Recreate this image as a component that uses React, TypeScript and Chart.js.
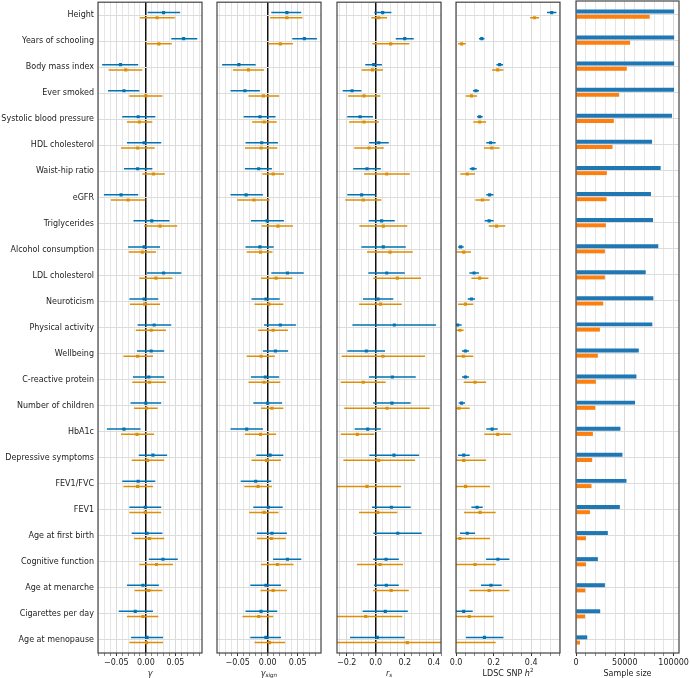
import React, { useEffect, useRef } from 'react';
import { Chart, registerables } from 'chart.js';

Chart.register(...registerables);
Chart.defaults.font.family = "'DejaVu Sans', sans-serif";
Chart.defaults.font.size = 8;
Chart.defaults.color = '#222222';

type CI = [number, number, number] | null; // [lower, estimate, upper]

const categories = [
  'Height', 'Years of schooling', 'Body mass index', 'Ever smoked', 'Systolic blood pressure',
  'HDL cholesterol', 'Waist-hip ratio', 'eGFR', 'Triglycerides', 'Alcohol consumption',
  'LDL cholesterol', 'Neuroticism', 'Physical activity', 'Wellbeing', 'C-reactive protein',
  'Number of children', 'HbA1c', 'Depressive symptoms', 'FEV1/FVC', 'FEV1',
  'Age at first birth', 'Cognitive function', 'Age at menarche', 'Cigarettes per day', 'Age at menopause',
];

const gammaBlue: CI[] = [
  [0.003, 0.030, 0.058], [0.043, 0.064, 0.087], [-0.074, -0.043, -0.013], [-0.064, -0.037, -0.011],
  [-0.040, -0.013, 0.016], [-0.032, -0.003, 0.026], [-0.037, -0.014, 0.011], [-0.071, -0.042, -0.013],
  [-0.021, 0.010, 0.040], [-0.030, -0.003, 0.024], [0.002, 0.030, 0.060], [-0.028, -0.003, 0.021],
  [-0.014, 0.014, 0.043], [-0.015, 0.009, 0.031], [-0.022, 0.005, 0.031], [-0.026, 0.000, 0.026],
  [-0.066, -0.037, -0.009], [-0.012, 0.012, 0.036], [-0.040, -0.013, 0.016], [-0.028, -0.001, 0.026],
  [-0.024, 0.002, 0.028], [0.005, 0.029, 0.054], [-0.032, -0.005, 0.022], [-0.046, -0.018, 0.012],
  [-0.025, 0.002, 0.029],
];
const gammaOrange: CI[] = [
  [-0.010, 0.019, 0.049], [0.000, 0.022, 0.044], [-0.063, -0.034, -0.006], [-0.028, 0.000, 0.028],
  [-0.032, -0.011, 0.011], [-0.042, -0.014, 0.015], [-0.006, 0.013, 0.032], [-0.059, -0.030, -0.001],
  [-0.003, 0.024, 0.053], [-0.029, -0.006, 0.017], [-0.011, 0.017, 0.045], [-0.027, -0.002, 0.024],
  [-0.017, 0.009, 0.034], [-0.038, -0.014, 0.012], [-0.023, 0.006, 0.034], [-0.020, 0.001, 0.020],
  [-0.042, -0.015, 0.014], [-0.024, 0.003, 0.031], [-0.038, -0.014, 0.012], [-0.028, -0.001, 0.026],
  [-0.020, 0.006, 0.031], [-0.011, 0.018, 0.046], [-0.019, 0.005, 0.028], [-0.032, -0.005, 0.021],
  [-0.028, 0.001, 0.029],
];

const gammaSignBlue: CI[] = [
  [0.006, 0.032, 0.056], [0.041, 0.061, 0.082], [-0.076, -0.048, -0.020], [-0.062, -0.038, -0.013],
  [-0.040, -0.013, 0.013], [-0.037, -0.010, 0.017], [-0.038, -0.015, 0.007], [-0.062, -0.036, -0.008],
  [-0.028, -0.001, 0.027], [-0.037, -0.013, 0.010], [0.006, 0.033, 0.060], [-0.027, -0.003, 0.020],
  [-0.006, 0.021, 0.047], [-0.008, 0.013, 0.034], [-0.028, -0.004, 0.019], [-0.024, 0.000, 0.024],
  [-0.062, -0.035, -0.008], [-0.019, 0.004, 0.026], [-0.045, -0.020, 0.006], [-0.024, 0.001, 0.025],
  [-0.018, 0.007, 0.032], [0.009, 0.033, 0.056], [-0.029, -0.003, 0.022], [-0.037, -0.011, 0.016],
  [-0.029, -0.003, 0.022],
];
const gammaSignOrange: CI[] = [
  [0.004, 0.032, 0.058], [0.001, 0.021, 0.042], [-0.058, -0.032, -0.006], [-0.032, -0.007, 0.019],
  [-0.026, -0.006, 0.015], [-0.038, -0.011, 0.016], [-0.009, 0.009, 0.027], [-0.051, -0.023, 0.003],
  [-0.010, 0.017, 0.042], [-0.035, -0.012, 0.008], [-0.011, 0.014, 0.041], [-0.022, 0.002, 0.026],
  [-0.016, 0.009, 0.034], [-0.035, -0.011, 0.012], [-0.032, -0.006, 0.021], [-0.011, 0.007, 0.026],
  [-0.038, -0.012, 0.014], [-0.027, -0.002, 0.022], [-0.039, -0.016, 0.007], [-0.031, -0.006, 0.018],
  [-0.018, 0.006, 0.030], [-0.011, 0.016, 0.043], [-0.012, 0.009, 0.032], [-0.042, -0.015, 0.009],
  [-0.022, 0.003, 0.029],
];

const rsBlue: CI[] = [
  [-0.010, 0.048, 0.108], [0.138, 0.200, 0.262], [-0.072, -0.014, 0.043], [-0.228, -0.163, -0.099],
  [-0.196, -0.108, -0.019], [-0.046, 0.021, 0.090], [-0.155, -0.060, 0.035], [-0.196, -0.097, 0.000],
  [-0.048, 0.041, 0.131], [-0.099, 0.052, 0.207], [-0.051, 0.076, 0.200], [-0.088, 0.016, 0.121],
  [-0.161, 0.128, 0.416], [-0.196, -0.065, 0.064], [-0.046, 0.115, 0.276], [-0.019, 0.112, 0.241],
  [-0.145, -0.055, 0.035], [-0.044, 0.126, 0.299], null, [-0.026, 0.108, 0.241],
  [-0.017, 0.152, 0.317], [-0.017, 0.071, 0.159], [-0.012, 0.073, 0.159], [-0.090, 0.066, 0.221],
  [-0.177, 0.011, 0.200],
];
const rsOrange: CI[] = [
  [-0.030, 0.021, 0.078], [-0.023, 0.103, 0.232], [-0.097, -0.023, 0.050], [-0.191, -0.081, 0.032],
  [-0.184, -0.081, 0.021], [-0.148, -0.046, 0.055], [-0.081, 0.076, 0.235], [-0.210, -0.086, 0.039],
  [-0.113, 0.052, 0.218], [-0.060, 0.099, 0.255], [-0.017, 0.149, 0.312], [-0.115, 0.032, 0.179],
  null, [-0.235, 0.050, 0.340], [-0.241, -0.086, 0.069], [-0.217, 0.078, 0.372],
  [-0.241, -0.127, -0.010], [-0.223, 0.021, 0.271], [-0.300, -0.060, 0.175], [-0.115, 0.014, 0.149],
  null, [-0.129, 0.030, 0.188], [-0.019, 0.106, 0.228], [-0.320, -0.069, 0.183],
  [-0.300, 0.218, 0.740],
];

const h2Blue: CI[] = [
  [0.484, 0.509, 0.534], [0.122, 0.137, 0.151], [0.215, 0.232, 0.250], [0.090, 0.106, 0.122],
  [0.112, 0.126, 0.142], [0.161, 0.184, 0.211], [0.073, 0.090, 0.110], [0.161, 0.179, 0.199],
  [0.153, 0.176, 0.200], [0.011, 0.025, 0.041], [0.071, 0.096, 0.122], [0.062, 0.082, 0.101],
  [-0.012, 0.009, 0.030], [0.032, 0.050, 0.069], [0.032, 0.050, 0.069], [0.014, 0.030, 0.048],
  [0.161, 0.192, 0.222], [0.011, 0.041, 0.073], null, [0.082, 0.112, 0.142],
  [0.021, 0.060, 0.101], [0.160, 0.223, 0.284], [0.133, 0.186, 0.243], [-0.005, 0.041, 0.089],
  [0.053, 0.151, 0.252],
];
const h2Orange: CI[] = [
  [0.394, 0.417, 0.442], [0.011, 0.030, 0.052], [0.192, 0.222, 0.252], [0.052, 0.082, 0.112],
  [0.092, 0.126, 0.160], [0.149, 0.190, 0.232], [0.023, 0.060, 0.101], [0.103, 0.140, 0.179],
  [0.174, 0.216, 0.262], [0.004, 0.041, 0.080], [0.082, 0.126, 0.172], [0.011, 0.050, 0.092],
  [0.002, 0.021, 0.041], [-0.014, 0.039, 0.092], [0.041, 0.101, 0.160], [-0.041, 0.016, 0.073],
  [0.151, 0.222, 0.293], [-0.078, 0.041, 0.160], [-0.079, 0.051, 0.181], [0.043, 0.128, 0.211],
  [-0.139, 0.021, 0.181], [-0.009, 0.101, 0.211], [0.071, 0.176, 0.284], [-0.058, 0.071, 0.200],
  [-0.300, -0.040, 0.211],
];

const sampleSizeBlue = [
  100500, 100500, 100500, 100400, 98300, 77900, 86700, 76800, 78900, 84300, 71400, 79200, 78200,
  64300, 61900, 60500, 45500, 47600, 51700, 44900, 32600, 22400, 29600, 24800, 11500,
];
const sampleSizeOrange = [
  75500, 55400, 52000, 44200, 38800, 37400, 31600, 31300, 30600, 29600, 29600, 27900, 24500,
  22400, 20400, 19700, 17300, 16600, 15900, 14300, 10200, 10200, 9500, 9200, 4100,
];

const gammaTicks = [-0.05, 0, 0.05];
const gammaTickLabels = ['−0.05', '0.00', '0.05'];
const rsTicks = [-0.2, 0, 0.2, 0.4];
const rsTickLabels = ['−0.2', '0.0', '0.2', '0.4'];
const h2Ticks = [0, 0.2, 0.4];
const h2TickLabels = ['0.0', '0.2', '0.4'];
const sampleTicks = [0, 50000, 100000];
const sampleTickLabels = ['0', '50000', '100000'];

const BLUE = '#0173b2';
const ORANGE = '#de8f05';
const BAR_BLUE = '#1f77b4';
const BAR_ORANGE = '#ff7f0e';
const ROW_OFFSET = 0.1;
const W = 690;
const H = 678;
const AXIS_H = 25;
const TITLE_BASELINE = 675.5;

type Part = { text: string; italic?: boolean; size?: number; dy?: number };

interface AxisSpec {
  min: number; max: number; major: number[]; labels: string[]; minorStep: number;
  zeroLine: boolean; left: number; right: number; title: Part[];
}

function tickValues(min: number, max: number, step: number): number[] {
  const out: number[] = [];
  const k0 = Math.ceil(min / step - 1e-9);
  const k1 = Math.floor(max / step + 1e-9);
  for (let k = k0; k <= k1; k++) out.push(+(k * step).toFixed(6));
  return out;
}

const framePlugin = {
  id: 'frame',
  afterDatasetsDraw(chart: any) {
    const { ctx, chartArea: a } = chart;
    ctx.save();
    ctx.strokeStyle = '#444444';
    ctx.lineWidth = 1.2;
    ctx.strokeRect(a.left, a.top, a.right - a.left, a.bottom - a.top);
    ctx.restore();
  },
};

function titlePlugin(parts: Part[]) {
  return {
    id: 'axisTitle',
    afterDraw(chart: any) {
      const { ctx, chartArea } = chart;
      ctx.save();
      const fontOf = (p: Part) => `${p.italic ? 'italic ' : ''}${p.size ?? 8}px 'DejaVu Sans'`;
      let total = 0;
      const widths = parts.map((p) => {
        ctx.font = fontOf(p);
        const w = ctx.measureText(p.text).width;
        total += w;
        return w;
      });
      let x = (chartArea.left + chartArea.right) / 2 - total / 2;
      ctx.fillStyle = '#222222';
      ctx.textAlign = 'left';
      ctx.textBaseline = 'alphabetic';
      parts.forEach((p, i) => {
        ctx.font = fontOf(p);
        ctx.fillText(p.text, x, TITLE_BASELINE + (p.dy ?? 0));
        x += widths[i];
      });
      ctx.restore();
    },
  };
}

function xScale(spec: AxisSpec) {
  const vals = tickValues(spec.min, spec.max, spec.minorStep);
  const majorIndex = (v: number) => spec.major.findIndex((m) => Math.abs(m - v) < spec.minorStep * 1e-3);
  const isZero = (c: any) => spec.zeroLine && c.tick && Math.abs(c.tick.value) < 1e-9;
  return {
    type: 'linear',
    min: spec.min,
    max: spec.max,
    afterBuildTicks: (s: any) => { s.ticks = vals.map((v) => ({ value: v })); },
    afterFit: (s: any) => { s.height = AXIS_H; s.paddingLeft = 0; s.paddingRight = 0; },
    border: { display: false },
    grid: {
      drawTicks: true,
      tickLength: 3,
      color: (c: any) => {
        if (isZero(c)) return '#111111';
        const v = c.tick ? c.tick.value : NaN;
        return majorIndex(v) >= 0 ? '#d9d9d9' : '#e6e6e6';
      },
      lineWidth: (c: any) => (isZero(c) ? 1.5 : 1),
      tickColor: (c: any) => {
        const v = c.tick ? c.tick.value : NaN;
        return majorIndex(v) >= 0 ? '#333333' : '#8a8a8a';
      },
      tickWidth: 1,
    },
    ticks: {
      autoSkip: false,
      maxRotation: 0,
      minRotation: 0,
      padding: 2.5,
      color: '#222222',
      font: { size: 8 },
      callback: (v: any) => {
        const i = majorIndex(Number(v));
        return i >= 0 ? spec.labels[i] : '';
      },
    },
  };
}

function errorConfig(spec: AxisSpec, blue: CI[], orange: CI[], showLabels: boolean): any {
  const series: [CI[], string, number][] = [[blue, BLUE, -ROW_OFFSET], [orange, ORANGE, ROW_OFFSET]];
  const datasets: any[] = [];
  for (const [ser, color, off] of series) {
    const segs: any[] = [];
    ser.forEach((t, i) => {
      if (t) segs.push({ x: t[0], y: i + off }, { x: t[2], y: i + off }, { x: null, y: null });
    });
    datasets.push({
      data: segs, showLine: true, borderColor: color, borderWidth: 1.5,
      pointRadius: 0, pointHoverRadius: 0, spanGaps: false, order: 2,
    });
  }
  for (const [ser, color, off] of series) {
    datasets.push({
      data: ser.flatMap((t, i) => (t ? [{ x: t[1], y: i + off }] : [])),
      showLine: false, pointStyle: 'rect', pointRadius: 2.2, pointHoverRadius: 2.2,
      backgroundColor: color, borderColor: color, pointBorderWidth: 0, order: 1,
    });
  }
  const rows = categories.map((_, i) => i);
  return {
    type: 'scatter',
    data: { datasets },
    options: {
      responsive: false,
      animation: false,
      events: [],
      layout: { padding: { left: showLabels ? 0 : spec.left, right: W - spec.right, top: 1, bottom: 0 } },
      plugins: { legend: { display: false }, tooltip: { enabled: false } },
      scales: {
        x: xScale(spec),
        y: {
          type: 'linear',
          reverse: true,
          min: -0.5,
          max: categories.length - 0.5,
          afterBuildTicks: (s: any) => { s.ticks = rows.map((v) => ({ value: v })); },
          afterFit: (s: any) => {
            s.width = showLabels ? spec.left : 0;
            s.paddingTop = 0; s.paddingBottom = 0;
          },
          border: { display: false },
          grid: { drawTicks: false, color: '#dcdcdc', lineWidth: 1 },
          ticks: {
            display: showLabels,
            autoSkip: false,
            padding: 4,
            color: '#222222',
            font: { size: 8 },
            callback: (v: any) => categories[Math.round(Number(v))] ?? '',
          },
        },
      },
    },
    plugins: [framePlugin, titlePlugin(spec.title)],
  };
}

function sampleConfig(spec: AxisSpec): any {
  return {
    type: 'bar',
    data: {
      labels: categories,
      datasets: [
        { data: sampleSizeBlue, backgroundColor: BAR_BLUE, categoryPercentage: 0.4, barPercentage: 0.76, borderWidth: 0 },
        { data: sampleSizeOrange, backgroundColor: BAR_ORANGE, categoryPercentage: 0.4, barPercentage: 0.76, borderWidth: 0 },
      ],
    },
    options: {
      indexAxis: 'y',
      responsive: false,
      animation: false,
      events: [],
      layout: { padding: { left: spec.left, right: W - spec.right, top: 1, bottom: 0 } },
      plugins: { legend: { display: false }, tooltip: { enabled: false } },
      scales: {
        x: xScale(spec),
        y: {
          type: 'category',
          offset: true,
          afterFit: (s: any) => { s.width = 0; s.paddingTop = 0; s.paddingBottom = 0; },
          border: { display: false },
          grid: { offset: false, drawTicks: false, color: '#dcdcdc', lineWidth: 1 },
          ticks: { display: false },
        },
      },
    },
    plugins: [framePlugin, titlePlugin(spec.title)],
  };
}

const gammaAxis: AxisSpec = {
  min: -0.081, max: 0.095, major: gammaTicks, labels: gammaTickLabels, minorStep: 0.01,
  zeroLine: true, left: 98, right: 202, title: [{ text: 'γ', italic: true }],
};
const gammaSignAxis: AxisSpec = {
  min: -0.0845, max: 0.0888, major: gammaTicks, labels: gammaTickLabels, minorStep: 0.01,
  zeroLine: true, left: 217, right: 321,
  title: [{ text: 'γ', italic: true }, { text: 'sign', italic: true, size: 5.6, dy: 1.8 }],
};
const rsAxis: AxisSpec = {
  min: -0.267, max: 0.45, major: rsTicks, labels: rsTickLabels, minorStep: 0.05,
  zeroLine: true, left: 337, right: 441,
  title: [{ text: 'r', italic: true }, { text: 's', italic: true, size: 5.6, dy: 1.8 }],
};
const h2Axis: AxisSpec = {
  min: 0, max: 0.553, major: h2Ticks, labels: h2TickLabels, minorStep: 0.05,
  zeroLine: false, left: 456, right: 560,
  title: [{ text: 'LDSC SNP ' }, { text: 'h', italic: true }, { text: '2', size: 5.6, dy: -3.2 }],
};
const sampleAxis: AxisSpec = {
  min: 0, max: 105500, major: sampleTicks, labels: sampleTickLabels, minorStep: 10000,
  zeroLine: false, left: 576, right: 679, title: [{ text: 'Sample size' }],
};

export default function App() {
  const refs = useRef<(HTMLCanvasElement | null)[]>([]);

  useEffect(() => {
    const configs = [
      errorConfig(gammaAxis, gammaBlue, gammaOrange, true),
      errorConfig(gammaSignAxis, gammaSignBlue, gammaSignOrange, false),
      errorConfig(rsAxis, rsBlue, rsOrange, false),
      errorConfig(h2Axis, h2Blue, h2Orange, false),
      sampleConfig(sampleAxis),
    ];
    const charts: Chart[] = [];
    configs.forEach((cfg, i) => {
      const c = refs.current[i];
      if (c) charts.push(new Chart(c, cfg));
    });
    return () => charts.forEach((ch) => ch.destroy());
  }, []);

  return (
    <div style={{ position: 'absolute', left: 0, top: 0, width: W, height: H, background: '#ffffff' }}>
      {[0, 1, 2, 3, 4].map((i) => (
        <canvas
          key={i}
          ref={(el) => { refs.current[i] = el; }}
          width={W}
          height={H}
          style={{ position: 'absolute', left: 0, top: 0, width: W, height: H }}
        />
      ))}
    </div>
  );
}
